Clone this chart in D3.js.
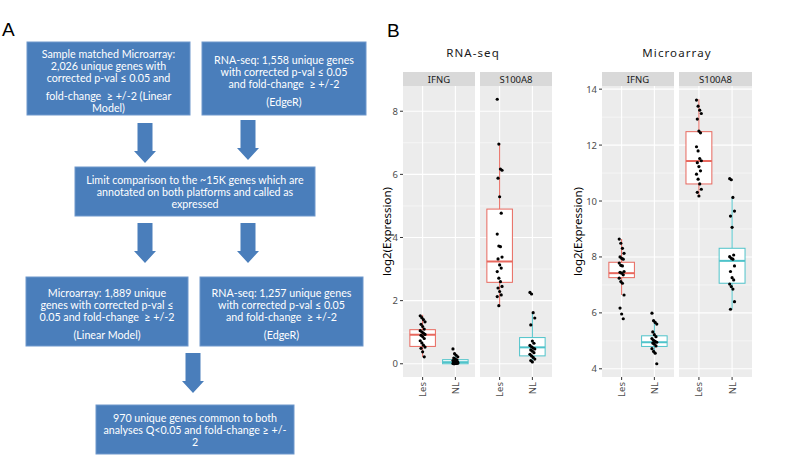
<!DOCTYPE html>
<html><head><meta charset="utf-8">
<script src="https://cdn.jsdelivr.net/npm/d3@7/dist/d3.min.js"></script>
<style>body{margin:0;background:#fff}svg{display:block}</style>
</head><body>
<svg id="c" width="800" height="455"></svg>
<script>
// ---------- Panel A: flowchart text ----------
const flowBox1 = ["Sample matched Microarray:", "2,026 unique genes with", "corrected p-val \u2264 0.05 and", "", "fold-change  \u2265 +/-2 (Linear", "Model)"];
const flowBox2 = ["RNA-seq: 1,558 unique genes", "with corrected p-val \u2264 0.05", "and fold-change  \u2265 +/-2", "", "(EdgeR)"];
const flowBox3 = ["Limit comparison to the ~15K genes which are", "annotated on both platforms and called as", "expressed"];
const flowBox4 = ["Microarray: 1,889 unique", "genes with corrected p-val \u2264", "0.05 and fold-change  \u2265 +/-2", "", "(Linear Model)"];
const flowBox5 = ["RNA-seq: 1,257 unique genes", "with corrected p-val \u2264 0.05", "and fold-change  \u2265 +/-2", "", "(EdgeR)"];
const flowBox6 = ["970 unique genes common to both", "analyses Q<0.05 and fold-change \u2265 +/-", "2"];

// ---------- Panel B: data ----------
const genes = ["IFNG", "S100A8"];
const groups = ["Les", "NL"];
const rnaTicks = [0, 2, 4, 6, 8];
const arrayTicks = [4, 6, 8, 10, 12, 14];

const rnaIFNG_Les = [1.52,1.46,1.40,1.33,1.25,1.18,1.10,1.05,1.01,0.97,0.93,0.90,0.86,0.80,0.73,0.66,0.59,0.53,0.49,0.38,0.22];
const rnaIFNG_NL  = [0.47,0.32,0.27,0.22,0.18,0.15,0.12,0.10,0.08,0.06,0.05,0.04,0.03,0.02,0.01,0.00,0.01,0.02,0.00,0.03];
const rnaS100A8_Les = [8.38,6.96,6.17,6.13,5.88,5.29,4.77,4.11,3.73,3.71,3.38,3.32,3.13,3.03,2.92,2.71,2.60,2.45,2.40,2.29,2.18,2.13,1.84];
const rnaS100A8_NL  = [2.26,2.21,1.62,1.45,1.23,0.72,0.65,0.58,0.54,0.50,0.47,0.44,0.40,0.35,0.30,0.25,0.20,0.15,0.10,0.06];

const arrIFNG_Les = [8.64,8.49,8.31,8.13,8.00,7.95,7.92,7.78,7.70,7.68,7.48,7.45,7.42,7.36,7.24,7.12,7.06,6.64,6.17,5.96,5.79];
const arrIFNG_NL  = [5.99,5.72,5.66,5.60,5.32,5.22,5.15,5.08,5.02,4.98,4.95,4.92,4.88,4.82,4.72,4.62,4.56,4.18];
const arrS100A8_Les = [13.61,13.39,13.25,13.13,12.93,12.50,12.44,11.94,11.79,11.52,11.44,11.37,11.23,11.08,10.96,10.78,10.61,10.42,10.31,10.18];
const arrS100A8_NL  = [10.80,10.76,10.13,9.64,9.46,9.06,8.07,8.01,7.95,7.92,7.68,7.48,7.26,7.18,7.03,6.94,6.85,6.40,6.13];

// box statistics: [lower whisker, q1, median, q3, upper whisker]
const rnaStats = {
  "IFNG|Les":   [0.22, 0.55, 0.92, 1.08, 1.55],
  "IFNG|NL":    [0.00, 0.00, 0.05, 0.13, 0.30],
  "S100A8|Les": [1.84, 2.58, 3.24, 4.90, 6.96],
  "S100A8|NL":  [0.05, 0.25, 0.52, 0.83, 1.62]
};
const arrStats = {
  "IFNG|Les":   [6.64, 7.26, 7.42, 7.81, 8.64],
  "IFNG|NL":    [4.54, 4.80, 4.95, 5.18, 5.75],
  "S100A8|Les": [10.15, 10.61, 11.43, 12.48, 13.64],
  "S100A8|NL":  [6.13, 7.06, 7.86, 8.31, 10.13]
};
const rnaPoints = {"IFNG|Les": rnaIFNG_Les, "IFNG|NL": rnaIFNG_NL, "S100A8|Les": rnaS100A8_Les, "S100A8|NL": rnaS100A8_NL};
const arrPoints = {"IFNG|Les": arrIFNG_Les, "IFNG|NL": arrIFNG_NL, "S100A8|Les": arrS100A8_Les, "S100A8|NL": arrS100A8_NL};

// ---------- drawing ----------
const svg = d3.select("#c");
const BLUE = "#4a7ebb";

// Panel labels
svg.append("text").attr("x", 2).attr("y", 36).attr("font-family", "Liberation Sans, Arial")
  .attr("font-size", 19).attr("fill", "#000").text("A");
svg.append("text").attr("x", 387).attr("y", 36.5).attr("font-family", "Liberation Sans, Arial")
  .attr("font-size", 19).attr("fill", "#000").text("B");

// Flowchart boxes
const boxLayout = [
  {lines: flowBox1, x: 27, y: 42, w: 163, h: 73},
  {lines: flowBox2, x: 202, y: 42, w: 164, h: 73},
  {lines: flowBox3, x: 75, y: 167, w: 240, h: 49},
  {lines: flowBox4, x: 26, y: 277, w: 162, h: 69},
  {lines: flowBox5, x: 200, y: 277, w: 163, h: 69},
  {lines: flowBox6, x: 96, y: 405, w: 198, h: 49}
];
const LH = 11.8, GAP = 6.5;
boxLayout.forEach(b => {
  svg.append("rect").attr("x", b.x).attr("y", b.y).attr("width", b.w).attr("height", b.h)
    .attr("fill", BLUE).attr("stroke", "#6f98cc").attr("stroke-width", 1);
  const ys = []; let cy = 0;
  b.lines.forEach(l => {
    if (l === "") { cy += GAP; return; }
    ys.push({t: l, y: cy}); cy += LH;
  });
  const total = cy - LH;
  const hasGap = b.lines.includes("");
  const off = b.y + b.h / 2 - total / 2 + (hasGap ? 2 : 0);
  ys.forEach(d => {
    svg.append("text").attr("x", b.x + b.w / 2).attr("y", off + d.y)
      .attr("text-anchor", "middle").attr("dominant-baseline", "central")
      .attr("font-family", "Lato, 'Open Sans', sans-serif").attr("font-size", 10.7)
      .attr("fill", "#fff").style("white-space", "pre").text(d.t);
  });
});

// Arrows
const arrowLayout = [
  {cx: 145, y0: 123, y1: 163}, {cx: 248, y0: 120, y1: 160},
  {cx: 145, y0: 223, y1: 263}, {cx: 248, y0: 223, y1: 263},
  {cx: 193, y0: 353, y1: 393}
];
arrowLayout.forEach(a => {
  const sw = 7.5, hw = 11, hl = 12;
  const p = d3.path();
  p.moveTo(a.cx - sw, a.y0); p.lineTo(a.cx + sw, a.y0); p.lineTo(a.cx + sw, a.y1 - hl);
  p.lineTo(a.cx + hw, a.y1 - hl); p.lineTo(a.cx, a.y1); p.lineTo(a.cx - hw, a.y1 - hl);
  p.lineTo(a.cx - sw, a.y1 - hl); p.closePath();
  svg.append("path").attr("d", p.toString()).attr("fill", BLUE);
});

// ---------- Box plots ----------
const COL = {Les: "#E8685E", NL: "#4FC3CA"};
const FONT = "'Noto Sans', 'Open Sans', sans-serif";

function drawPlot(cfg) {
  const g = svg.append("g");
  const allVals = [];
  Object.values(cfg.points).forEach(a => allVals.push(...a));
  Object.values(cfg.stats).forEach(a => allVals.push(...a));
  const mn = d3.min(allVals), mx = d3.max(allVals), ex = (mx - mn) * 0.05;
  const top = 86, bot = 377;
  const y = d3.scaleLinear().domain([mn - ex, mx + ex]).range([bot, top]);
  const majors = cfg.ticks;
  const minors = [];
  for (let i = 0; i < majors.length - 1; i++) minors.push((majors[i] + majors[i + 1]) / 2);
  const step = majors[1] - majors[0];
  if (majors[majors.length - 1] + step / 2 <= y.domain()[1]) minors.push(majors[majors.length - 1] + step / 2);
  if (majors[0] - step / 2 >= y.domain()[0]) minors.push(majors[0] - step / 2);

  g.append("text").attr("x", cfg.titleX).attr("y", 57).attr("text-anchor", "middle")
    .attr("font-family", FONT).attr("font-size", 11.5).attr("letter-spacing", 1.1)
    .attr("fill", "#1a1a1a").text(cfg.title);

  cfg.facets.forEach((range, fi) => {
    const gene = genes[fi];
    const x = d3.scalePoint().domain(groups).range(range).padding(0.6);
    const bw = x.step() * 0.78;
    g.append("rect").attr("x", range[0]).attr("y", top).attr("width", range[1] - range[0])
      .attr("height", bot - top).attr("fill", "#ececec");
    g.append("rect").attr("x", range[0]).attr("y", 72).attr("width", range[1] - range[0])
      .attr("height", top - 72).attr("fill", "#d9d9d9");
    g.append("text").attr("x", (range[0] + range[1]) / 2).attr("y", 79.5)
      .attr("text-anchor", "middle").attr("dominant-baseline", "central")
      .attr("font-family", FONT).attr("font-size", 9.5).attr("fill", "#1a1a1a").text(gene);
    minors.forEach(v => g.append("line").attr("x1", range[0]).attr("x2", range[1])
      .attr("y1", y(v)).attr("y2", y(v)).attr("stroke", "#fff").attr("stroke-width", 0.5));
    majors.forEach(v => g.append("line").attr("x1", range[0]).attr("x2", range[1])
      .attr("y1", y(v)).attr("y2", y(v)).attr("stroke", "#fff").attr("stroke-width", 1.1));
    groups.forEach(gr => g.append("line").attr("x1", x(gr)).attr("x2", x(gr))
      .attr("y1", top).attr("y2", bot).attr("stroke", "#fff").attr("stroke-width", 1.1));

    groups.forEach(gr => {
      const key = gene + "|" + gr;
      const s = cfg.stats[key], c = COL[gr], cx = x(gr);
      g.append("line").attr("x1", cx).attr("x2", cx).attr("y1", y(s[4])).attr("y2", y(s[3]))
        .attr("stroke", c).attr("stroke-width", 1);
      g.append("line").attr("x1", cx).attr("x2", cx).attr("y1", y(s[1])).attr("y2", y(s[0]))
        .attr("stroke", c).attr("stroke-width", 1);
      g.append("rect").attr("x", cx - bw / 2).attr("y", y(s[3])).attr("width", bw)
        .attr("height", Math.max(0.5, y(s[1]) - y(s[3]))).attr("fill", "#fff")
        .attr("stroke", c).attr("stroke-width", 1);
      g.append("line").attr("x1", cx - bw / 2).attr("x2", cx + bw / 2).attr("y1", y(s[2])).attr("y2", y(s[2]))
        .attr("stroke", c).attr("stroke-width", 2);
    });
    groups.forEach(gr => {
      const key = gene + "|" + gr;
      const cx = x(gr);
      cfg.points[key].forEach((v, i) => {
        const jit = (((i * 37) % 7) - 3) * 0.8;
        g.append("circle").attr("cx", cx + jit).attr("cy", y(v)).attr("r", 1.6).attr("fill", "#000");
      });
    });
    groups.forEach(gr => {
      g.append("line").attr("x1", x(gr)).attr("x2", x(gr)).attr("y1", bot).attr("y2", bot + 3)
        .attr("stroke", "#333").attr("stroke-width", 1);
      g.append("text").attr("transform", `translate(${x(gr)},${bot + 5}) rotate(-90)`)
        .attr("text-anchor", "end").attr("dominant-baseline", "central")
        .attr("font-family", FONT).attr("font-size", 9.5).attr("fill", "#4d4d4d").text(gr);
    });
    if (fi === 0) {
      majors.forEach(v => {
        g.append("line").attr("x1", range[0] - 3).attr("x2", range[0]).attr("y1", y(v)).attr("y2", y(v))
          .attr("stroke", "#333").attr("stroke-width", 1);
        g.append("text").attr("x", range[0] - 5).attr("y", y(v)).attr("text-anchor", "end")
          .attr("dominant-baseline", "central").attr("font-family", FONT).attr("font-size", 9.5)
          .attr("fill", "#4d4d4d").text(v);
      });
      g.append("text").attr("transform", `translate(${cfg.ylabX},${(top + bot) / 2}) rotate(-90)`)
        .attr("text-anchor", "middle").attr("dominant-baseline", "central")
        .attr("font-family", FONT).attr("font-size", 11.5).attr("fill", "#000").text("log2(Expression)");
    }
  });
}

drawPlot({title: "RNA-seq", titleX: 473, ticks: rnaTicks, points: rnaPoints, stats: rnaStats,
  facets: [[403, 475], [480, 552]], ylabX: 386});
drawPlot({title: "Microarray", titleX: 677, ticks: arrayTicks, points: arrPoints, stats: arrStats,
  facets: [[602, 674], [679, 752]], ylabX: 577});
</script>
</body></html>
